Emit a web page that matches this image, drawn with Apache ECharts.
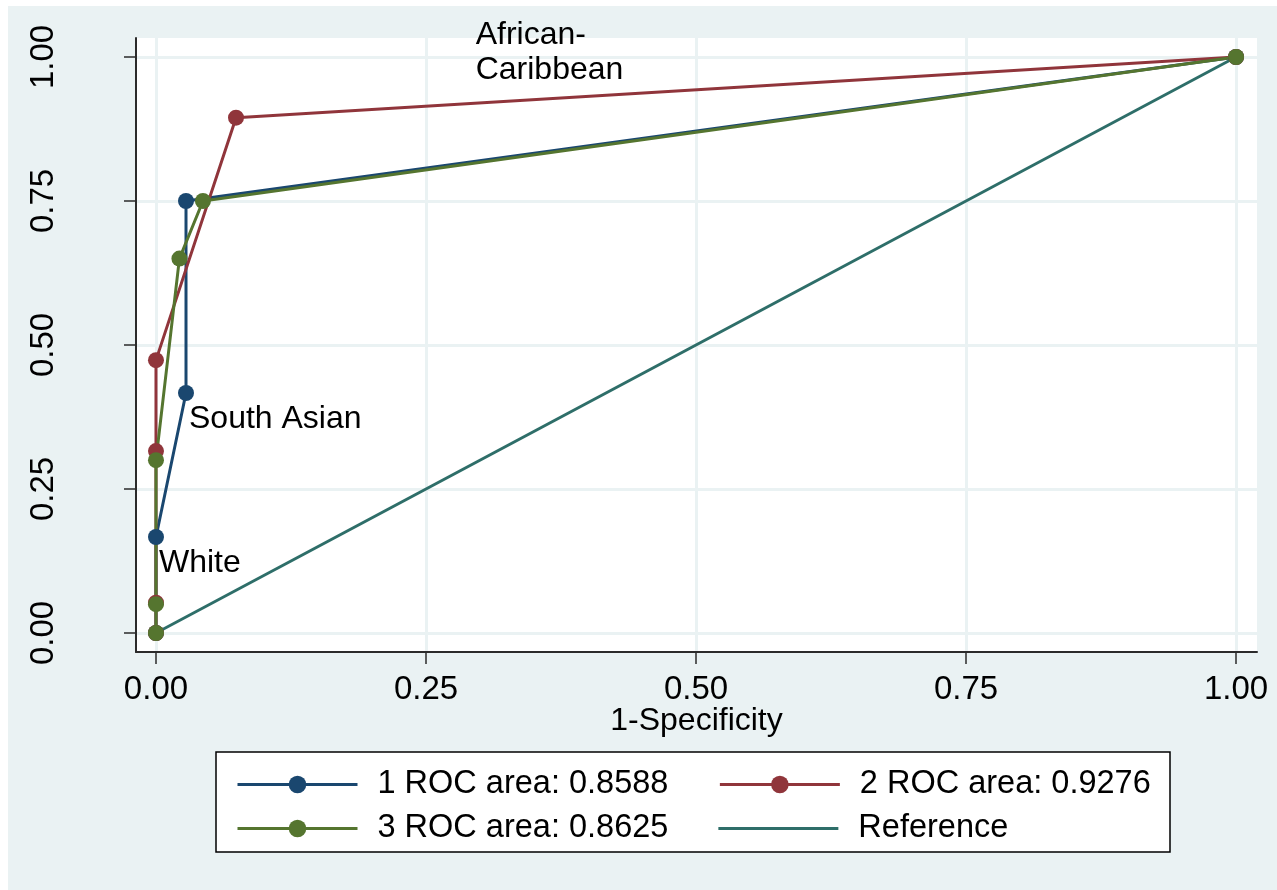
<!DOCTYPE html>
<html>
<head>
<meta charset="utf-8">
<script src="https://cdn.jsdelivr.net/npm/echarts@6/dist/echarts.min.js"></script>
<style>
  html, body { margin: 0; padding: 0; background: #ffffff; width: 1277px; height: 890px; overflow: hidden; }
  #chart { position: absolute; left: 8px; top: 6px; width: 1269px; height: 884px; background: #eaf2f3; }
</style>
</head>
<body>
<div id="chart"></div>
<script>
// Tick marks shared by both axes
const tickValues = [0, 0.25, 0.5, 0.75, 1];
const tickLabels = ['0.00', '0.25', '0.50', '0.75', '1.00'];

// Legend entries
const seriesNames = ['1 ROC area: 0.8588', '2 ROC area: 0.9276', '3 ROC area: 0.8625', 'Reference'];

// ROC curves: [1-specificity, sensitivity]
const roc1 = [[0, 0], [0, 0.1667], [0.0278, 0.4167], [0.0278, 0.75], [1, 1]];
const roc1Labels = ['', 'White', 'South Asian', '', ''];
const roc2 = [[0, 0], [0, 0.0526], [0, 0.3158], [0, 0.4737], [0.0741, 0.8947], [1, 1]];
const roc3 = [[0, 0], [0, 0.05], [0, 0.30], [0.0217, 0.65], [0.0435, 0.75], [1, 1]];
const refLine = [[0, 0], [1, 1]];

// Free-standing note, anchored at its left edge / vertical middle
const noteText = 'African-\nCaribbean';
const notePoint = [0.296, 1.0075];

const colors = ['#1a476f', '#90353b', '#55752f', '#2e6e69'];
const FONT = '"Liberation Sans", Arial, Helvetica, sans-serif';

function tickLabel(v) {
  let best = 0;
  tickValues.forEach((t, i) => { if (Math.abs(t - v) < Math.abs(tickValues[best] - v)) best = i; });
  return tickLabels[best];
}

function axisCommon() {
  return {
    type: 'value',
    axisLine: { show: true, onZero: false, lineStyle: { color: '#2b2b2b', width: 2 } },
    axisTick: { show: true, customValues: tickValues, length: 12, lineStyle: { color: '#2b2b2b', width: 1.5 } },
    axisLabel: { customValues: tickValues, formatter: tickLabel, color: '#000', fontFamily: FONT, fontSize: 33 },
    splitLine: { show: true, lineStyle: { color: '#eaf2f3', width: 3 } }
  };
}

function rocSeries(name, data, color, labels) {
  return {
    name: name,
    type: 'line',
    symbol: 'circle',
    symbolSize: 16,
    showSymbol: true,
    color: color,
    lineStyle: { color: color, width: 3 },
    itemStyle: { color: color },
    data: data.map((p, i) => {
      const txt = labels ? labels[i] : '';
      return {
        value: p,
        label: txt ? {
          show: true, formatter: txt, position: [11, 34], align: 'left', verticalAlign: 'middle',
          color: '#000', fontFamily: FONT, fontSize: 32
        } : { show: false }
      };
    }),
    animation: false
  };
}

const chart = echarts.init(document.getElementById('chart'), null, { renderer: 'canvas' });

const xAxis = Object.assign(axisCommon(), {
  min: -0.0185, max: 1.0194,
  name: '1-Specificity', nameLocation: 'middle', nameGap: 53, nameMoveOverlap: false,
  nameTextStyle: { color: '#000', fontFamily: FONT, fontSize: 32 }
});
xAxis.axisLabel.margin = 21;

const yAxis = Object.assign(axisCommon(), { min: -0.033, max: 1.033 });
yAxis.axisLabel.rotate = 90;
yAxis.axisLabel.margin = 76;

const legendText = { color: '#000', fontFamily: FONT, fontSize: 32.5, padding: [0, 0, 0, 15] };
const plainLineIcon = 'path://M0,0 L120,0 L120,3 L0,3 Z';
const legendCommon = {
  left: 228, padding: 0, itemWidth: 120, itemHeight: 22, itemGap: 50,
  symbolKeepAspect: true, lineStyle: { width: 3 }, textStyle: legendText
};

chart.setOption({
  animation: false,
  grid: { left: 128, right: 20, top: 32, bottom: 238, show: true, backgroundColor: '#ffffff', borderWidth: 0 },
  xAxis: xAxis,
  yAxis: yAxis,
  legend: [
    Object.assign({ data: [seriesNames[0], seriesNames[1]], top: 762 }, legendCommon),
    Object.assign({ data: [seriesNames[2], { name: seriesNames[3], icon: plainLineIcon }], top: 806 }, legendCommon)
  ],
  series: [
    rocSeries(seriesNames[0], roc1, colors[0], roc1Labels),
    rocSeries(seriesNames[1], roc2, colors[1]),
    rocSeries(seriesNames[2], roc3, colors[2]),
    {
      name: seriesNames[3], type: 'line', symbol: 'none', showSymbol: false,
      color: colors[3], lineStyle: { color: colors[3], width: 3 },
      data: refLine, animation: false
    }
  ]
});

// Legend frame and the free-standing note, placed through the axes' scales
const notePx = chart.convertToPixel({ gridIndex: 0 }, notePoint);
chart.setOption({
  graphic: [
    {
      type: 'rect', z: 1,
      shape: { x: 208, y: 746, width: 954, height: 100 },
      style: { fill: '#ffffff', stroke: '#000000', lineWidth: 1.5 }
    },
    {
      type: 'text', z: 10, x: notePx[0], y: notePx[1],
      style: {
        text: noteText, fill: '#000000', font: '32px ' + FONT, lineHeight: 35,
        align: 'left', verticalAlign: 'middle'
      }
    }
  ]
});
</script>
</body>
</html>
